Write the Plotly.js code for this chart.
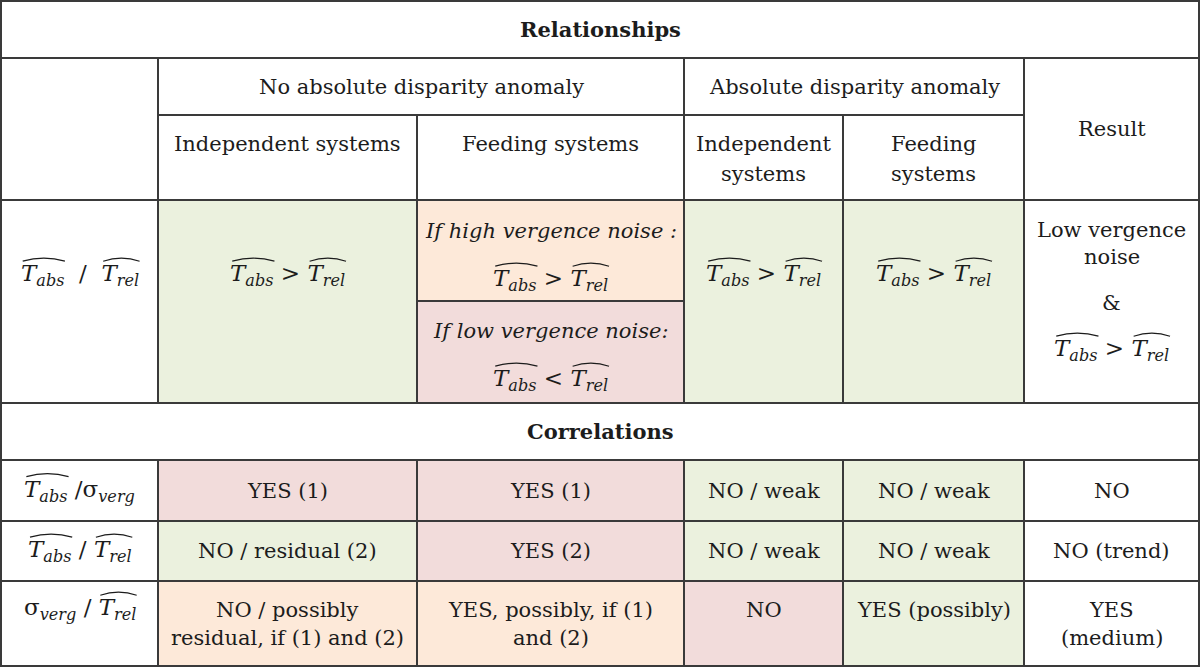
<!DOCTYPE html>
<html>
<head>
<meta charset="utf-8">
<script src="https://cdn.plot.ly/plotly-3.0.1.min.js"></script>
<style>
  html, body { margin: 0; padding: 0; background: #ffffff; }
  #chart { width: 1200px; height: 667px; }
</style>
</head>
<body>
<div id="chart"></div>
<script>
  // ---- table content ----
  const relTitle = "Relationships";
  const corrTitle = "Correlations";
  const groupLabels = ["No absolute disparity anomaly", "Absolute disparity anomaly"];
  const systemLabels = [
    ["Independent systems"],
    ["Feeding systems"],
    ["Independent", "systems"],
    ["Feeding", "systems"]
  ];
  const resultLabel = "Result";

  // math tokens: Tabs / Trel are hatted T with subscript, sverg is sigma_verg
  const relRowLabel = ["Tabs", "\u00a0 / \u00a0", "Trel"];
  const relGreater = ["Tabs", " > ", "Trel"];
  const relLess = ["Tabs", " < ", "Trel"];
  const relCases = ["If high vergence noise :", "If low vergence noise:"];
  const relResult = [["Low vergence", "noise"], ["&"]];
  const relColors = ["green", ["orange", "pink"], "green", "green", "white"];

  const corrRowLabels = [
    ["Tabs", " /", "sverg"],
    ["Tabs", " / ", "Trel"],
    ["sverg", " / ", "Trel"]
  ];
  const corrValues = [
    [["YES (1)"], ["YES (1)"], ["NO / weak"], ["NO / weak"], ["NO"]],
    [["NO / residual (2)"], ["YES (2)"], ["NO / weak"], ["NO / weak"], ["NO (trend)"]],
    [["NO / possibly", "residual, if (1) and (2)"], ["YES, possibly, if (1)", "and (2)"], ["NO"], ["YES (possibly)"], ["YES", "(medium)"]]
  ];
  const corrColors = [
    ["pink", "pink", "green", "green", "white"],
    ["green", "pink", "green", "green", "white"],
    ["orange", "orange", "pink", "green", "white"]
  ];

  // ---- grid and styles ----
  const COLS = [1, 158, 417, 684, 843, 1024, 1199];
  const ROWS = [1, 58, 115, 200, 301, 403, 460, 521, 581, 666];
  const FILL = { white: "#ffffff", green: "#ebf1de", pink: "#f2dcdb", orange: "#fde9d9" };
  const FONT = '"DejaVu Serif", "Liberation Serif", serif';
  const FS = 21;
  const MATH_FS = 23;
  const INK = "#1c1c1c";
  const RULE = "#3a3a3a";

  const TERMS = {
    Tabs: { base: "T", sub: "abs", hat: true, italic: true },
    Trel: { base: "T", sub: "rel", hat: true, italic: true },
    sverg: { base: "\u03c3", sub: "verg", hat: false, italic: false }
  };

  const shapes = [];
  const annotations = [];

  const ctx = document.createElement("canvas").getContext("2d");
  function measure(str, size, italic) {
    ctx.font = `${italic ? "italic " : ""}${size}px ${FONT}`;
    return ctx.measureText(str).width;
  }

  function esc(s) {
    return s.replace(/&/g, "&amp;").replace(/</g, "&lt;").replace(/>/g, "&gt;");
  }

  const colMid = (i) => (COLS[i] + COLS[i + 1]) / 2;

  function addCell(c0, c1, r0, r1, colorKey) {
    shapes.push({
      type: "rect",
      xref: "x",
      yref: "y",
      x0: COLS[c0],
      x1: COLS[c1],
      y0: ROWS[r0],
      y1: ROWS[r1],
      fillcolor: FILL[colorKey],
      line: { color: RULE, width: 2 },
      layer: "below"
    });
  }

  // each line is its own annotation so the line gap can follow the reference
  function addLines(x, yFirst, lines, gap = 28, opts = {}) {
    lines.forEach((line, i) => {
      let body = esc(line);
      if (opts.italic) body = `<i>${body}</i>`;
      if (opts.bold) body = `<b>${body}</b>`;
      annotations.push({
        x,
        y: yFirst + i * gap,
        xref: "x",
        yref: "y",
        text: body,
        showarrow: false,
        xanchor: "center",
        yanchor: "middle",
        font: { family: FONT, size: opts.size || FS, color: INK }
      });
    });
  }

  function addMath(x, y, tokens, size = MATH_FS) {
    const subSize = size * 0.7;
    let html = "";
    let w = 0;
    const hats = [];

    tokens.forEach((tok) => {
      const t = TERMS[tok];
      if (!t) {
        html += esc(tok);
        w += measure(tok, size, false);
        return;
      }
      const wb = measure(t.base, size, t.italic);
      const ws = measure(t.sub, subSize, true);
      if (t.hat) hats.push([w, w + wb + ws]);
      html += (t.italic ? `<i>${t.base}</i>` : t.base) + `<sub><i>${t.sub}</i></sub>`;
      w += wb + ws;
    });

    annotations.push({
      x,
      y,
      xref: "x",
      yref: "y",
      text: html,
      showarrow: false,
      xanchor: "center",
      yanchor: "middle",
      font: { family: FONT, size, color: INK }
    });

    const left = x - w / 2;
    hats.forEach(([a, b]) => {
      const x0 = left + a + size * 0.1;
      const x1 = left + b + 1;
      const yb = y - size * 0.6;
      const h = 3;
      shapes.push({
        type: "path",
        xref: "x",
        yref: "y",
        path: `M ${x0},${yb} Q ${(x0 + x1) / 2},${yb - 2 * h} ${x1},${yb}`,
        line: { color: INK, width: 1.2 }
      });
    });
  }

  // ---- header block ----
  addCell(0, 6, 0, 1, "white");
  addLines(600, (ROWS[0] + ROWS[1]) / 2, [relTitle], 28, { bold: true });

  addCell(0, 1, 1, 3, "white");
  addCell(1, 3, 1, 2, "white");
  addCell(3, 5, 1, 2, "white");
  addCell(5, 6, 1, 3, "white");
  addLines((COLS[1] + COLS[3]) / 2, (ROWS[1] + ROWS[2]) / 2, [groupLabels[0]]);
  addLines((COLS[3] + COLS[5]) / 2, (ROWS[1] + ROWS[2]) / 2, [groupLabels[1]]);
  addLines(colMid(5), (ROWS[1] + ROWS[3]) / 2, [resultLabel]);

  systemLabels.forEach((lines, i) => {
    addCell(i + 1, i + 2, 2, 3, "white");
    addLines(colMid(i + 1), ROWS[2] + 29, lines, 30);
  });

  // ---- relationship row ----
  const relMidY = ROWS[3] + 75;
  addCell(0, 1, 3, 5, "white");
  addMath(colMid(0), relMidY, relRowLabel);

  relColors.forEach((c, i) => {
    const col = i + 1;
    if (Array.isArray(c)) {
      addCell(col, col + 1, 3, 4, c[0]);
      addCell(col, col + 1, 4, 5, c[1]);
      addLines(colMid(col), ROWS[3] + 31, [relCases[0]], 28, { italic: true });
      addMath(colMid(col), ROWS[3] + 80, relGreater);
      addLines(colMid(col), ROWS[4] + 30, [relCases[1]], 28, { italic: true });
      addMath(colMid(col), ROWS[4] + 79, relLess);
    } else if (col === 5) {
      addCell(col, col + 1, 3, 5, c);
      addLines(colMid(col), ROWS[3] + 30, relResult[0], 27);
      addLines(colMid(col), ROWS[3] + 103, relResult[1]);
      addMath(colMid(col), ROWS[3] + 150, relGreater);
    } else {
      addCell(col, col + 1, 3, 5, c);
      addMath(colMid(col), relMidY, relGreater);
    }
  });

  // ---- correlations ----
  addCell(0, 6, 5, 6, "white");
  addLines(600, (ROWS[5] + ROWS[6]) / 2, [corrTitle], 28, { bold: true });

  corrRowLabels.forEach((label, r) => {
    const r0 = 6 + r;
    const top = ROWS[r0];
    const single = (ROWS[r0] + ROWS[r0 + 1]) / 2;
    const firstLine = top + 29;
    addCell(0, 1, r0, r0 + 1, "white");
    addMath(colMid(0), r === 2 ? firstLine - 1 : single, label);

    corrValues[r].forEach((lines, c) => {
      addCell(c + 1, c + 2, r0, r0 + 1, corrColors[r][c]);
      addLines(colMid(c + 1), r === 2 ? firstLine : single, lines, 28);
    });
  });

  const layout = {
    width: 1200,
    height: 667,
    margin: { l: 0, r: 0, t: 0, b: 0 },
    paper_bgcolor: "#ffffff",
    plot_bgcolor: "#ffffff",
    showlegend: false,
    xaxis: { range: [0, 1200], visible: false, fixedrange: true },
    yaxis: { range: [667, 0], visible: false, fixedrange: true },
    shapes,
    annotations
  };

  Plotly.newPlot("chart", [], layout, { staticPlot: true, displayModeBar: false });
</script>
</body>
</html>
